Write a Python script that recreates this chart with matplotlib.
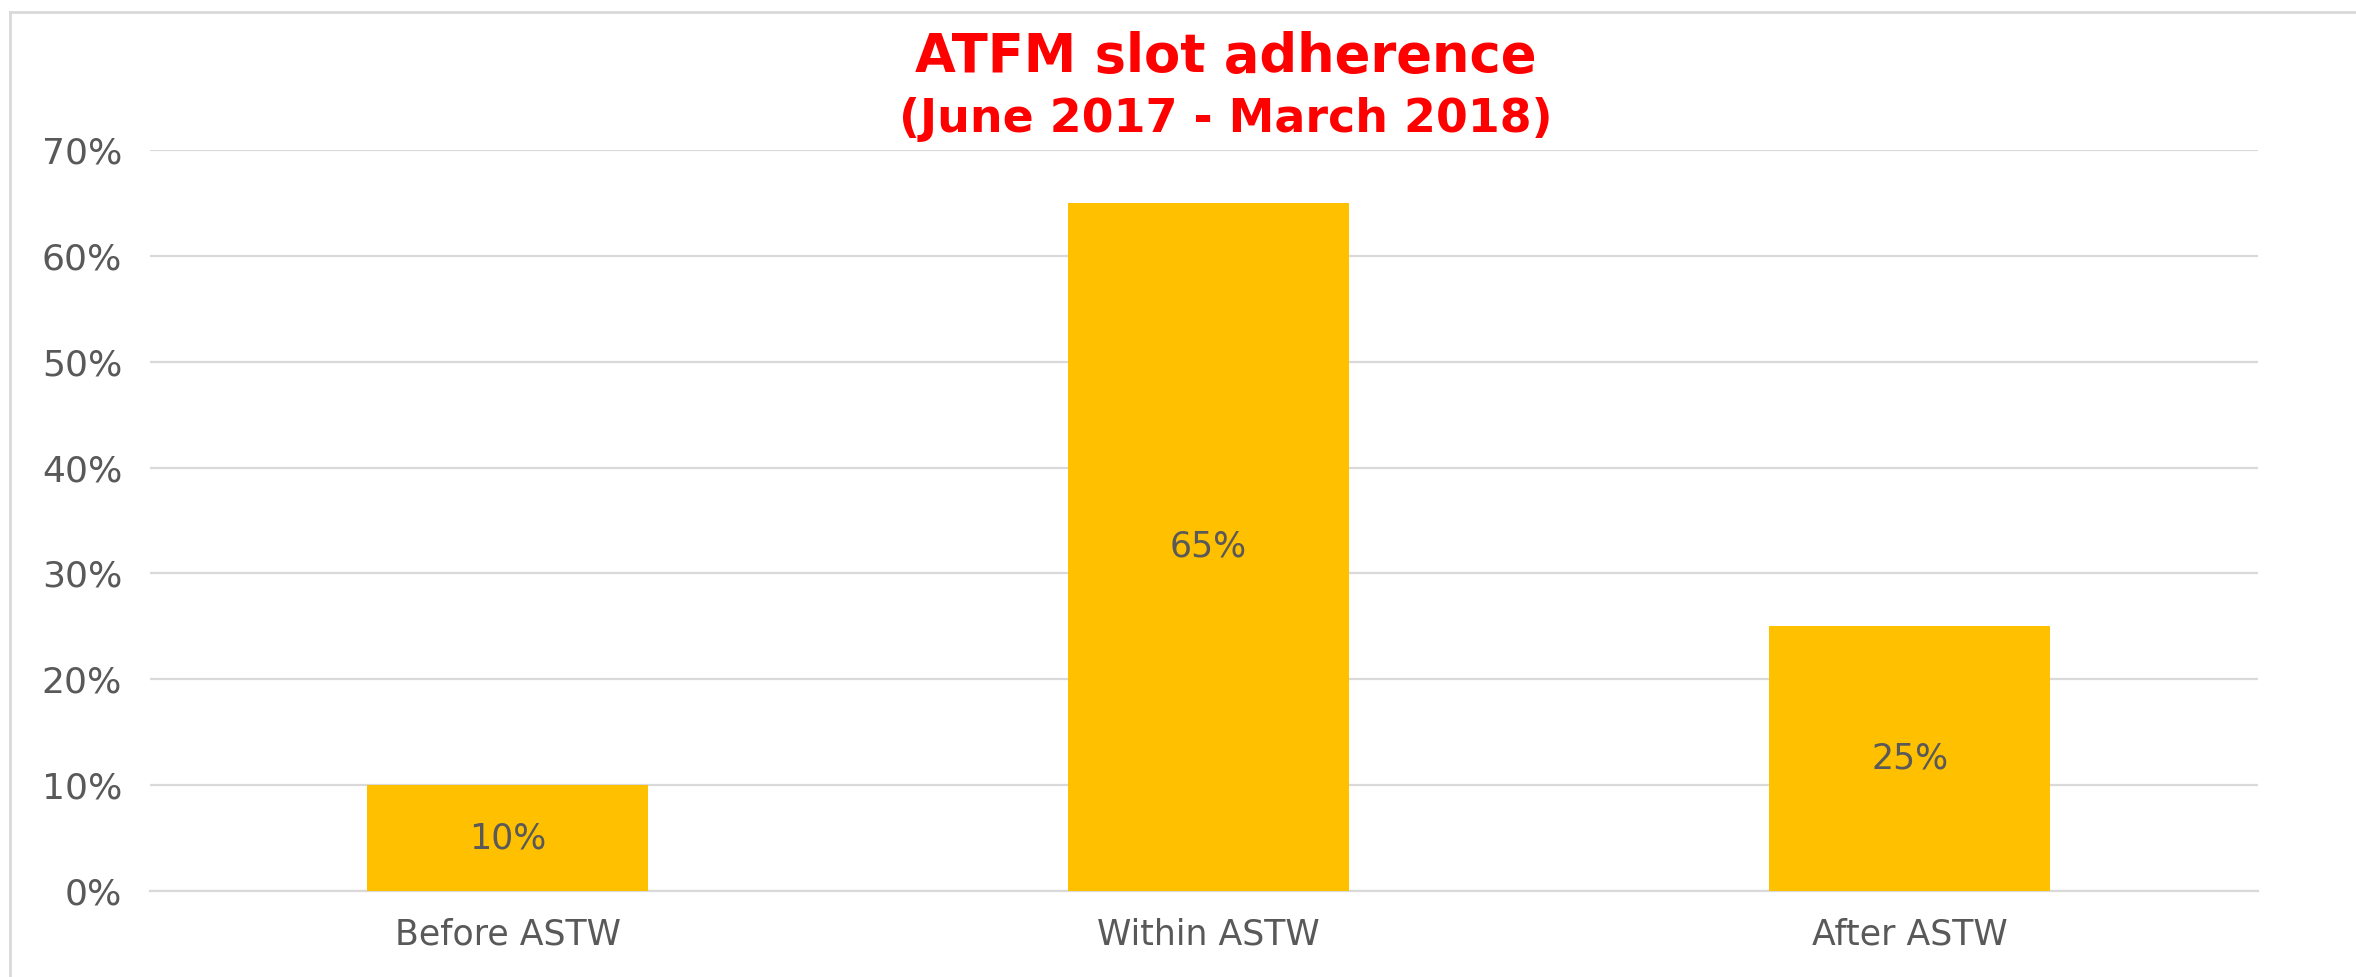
import matplotlib.pyplot as plt
from matplotlib.lines import Line2D
import numpy as np

# data
categories = ["Before ASTW", "Within ASTW", "After ASTW"]
shares = [10, 65, 25]  # percent
y_ticks = [0, 10, 20, 30, 40, 50, 60, 70]

title = "ATFM slot adherence"
subtitle = "(June 2017 - March 2018)"

BAR = "#FFC000"
GREY_TXT = "#595959"
GRID = "#D9D9D9"
RED = "#FF0000"

plt.rcParams['font.family'] = ['DejaVu Sans']

W, H = 2356, 977
fig = plt.figure(figsize=(W / 100, H / 100), dpi=100)
ax = fig.add_axes([150 / W, 1 - 891 / H, (2258 - 150) / W, (891 - 150) / H])

x = np.arange(len(categories))
bars = ax.bar(x, shares, width=0.40, color=BAR, zorder=3)

for rect, v in zip(bars, shares):
    ax.text(rect.get_x() + rect.get_width() / 2, v / 2, f"{v}%",
            ha="center", va="center", fontsize=25, color=GREY_TXT, zorder=4)

ax.set_xlim(-0.51, 2.497)
ax.set_ylim(0, 70)
ax.set_yticks(y_ticks)
ax.set_yticklabels([f"{t}%" for t in y_ticks])
ax.set_xticks(x)
ax.set_xticklabels(categories)

ax.grid(axis="y", color=GRID, linewidth=1.6, zorder=0)
ax.set_axisbelow(True)
for s in ["top", "right", "left"]:
    ax.spines[s].set_visible(False)
ax.spines["bottom"].set_color(GRID)
ax.spines["bottom"].set_linewidth(1.6)

ax.tick_params(axis="y", length=0, pad=20, labelsize=26, labelcolor=GREY_TXT)
ax.tick_params(axis="x", length=0, pad=19, labelsize=25, labelcolor=GREY_TXT)

# titles
fig.text(1226 / W, 1 - 57 / H, title, ha="center", va="center",
         fontsize=38, fontweight="bold", color=RED)
fig.text(1226 / W, 1 - 120 / H, subtitle, ha="center", va="center",
         fontsize=33, fontweight="bold", color=RED)

# outer frame (left and top edges visible)
fig.add_artist(Line2D([10 / W, 10 / W], [0, 1 - 12 / H], transform=fig.transFigure,
                      color=GRID, linewidth=2))
fig.add_artist(Line2D([10 / W, 1], [1 - 12 / H, 1 - 12 / H], transform=fig.transFigure,
                      color=GRID, linewidth=2))

fig.savefig("out.png", dpi=100, facecolor="white")
